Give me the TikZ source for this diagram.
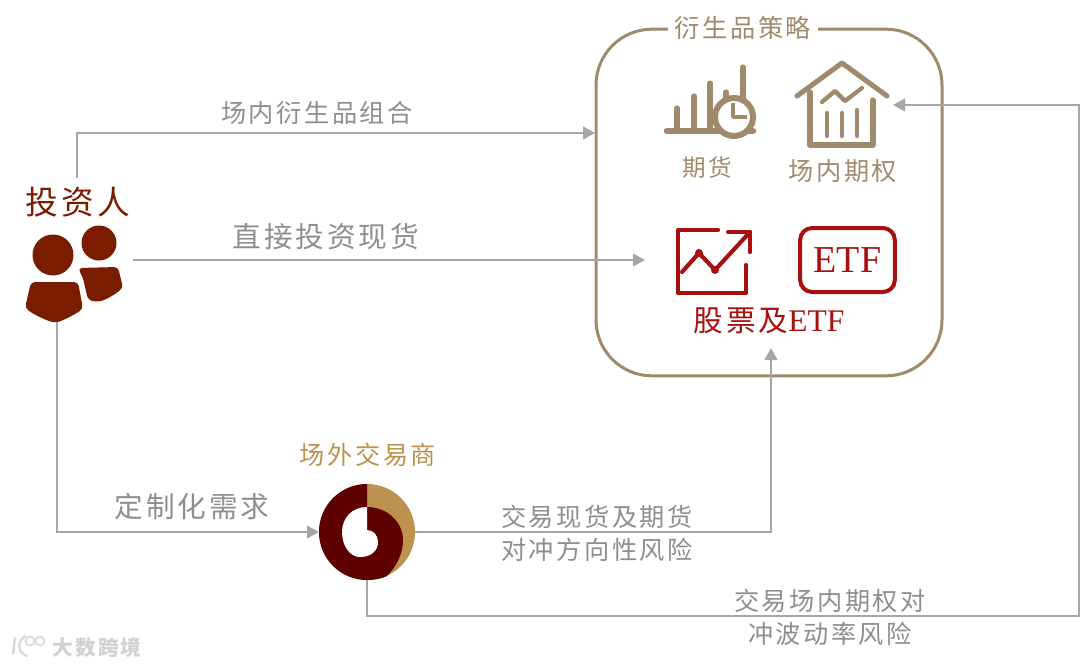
\documentclass[tikz,border=0pt]{standalone}
\usepackage{fontspec}
\setmainfont{Liberation Serif}
\newfontfamily\cjk[LetterSpace=10]{Noto Sans CJK SC}
\usetikzlibrary{arrows.meta}
\definecolor{lineGrey}{HTML}{A6A6A6}
\definecolor{textGrey}{HTML}{8E8E8E}
\definecolor{boxBrown}{HTML}{A08A6C}
\definecolor{redWine}{HTML}{A80F0F}
\definecolor{darkRust}{HTML}{7A1C00}
\definecolor{darkWine}{HTML}{5E0000}
\definecolor{tanGold}{HTML}{BC924E}
\tikzset{
	flow/.style={draw=lineGrey, line width=1.5pt, -{Triangle[length=9pt,width=9.5pt]}},
	lbl/.style={text=textGrey, inner sep=0pt, font=\cjk\fontsize{18.9}{20}\selectfont, align=center},
	biglbl/.style={lbl, font=\cjk\fontsize{21.5}{22}\selectfont},
	iconbrown/.style={draw=boxBrown, line width=3.8pt, line cap=round, line join=round},
	iconred/.style={draw=redWine, line width=3.1pt, line cap=round, line join=round}
}
\begin{document}
\begin{tikzpicture}[x=0.75pt,y=-0.75pt]
	\useasboundingbox (0,0) rectangle (1080,667);

	\node[draw=boxBrown, line width=2.25pt, rounded corners=42pt, minimum width=259.5pt, minimum height=260pt, outer sep=0pt] (strategy) at (769,202.5) {};
	\node[lbl, text=boxBrown, fill=white, inner xsep=5pt, inner ysep=2pt] (strategytitle) at (743,28) {衍生品策略};

	\draw[iconbrown, line width=5pt] (667,131) -- (753,131);
	\foreach \x/\y in {677/108, 694/96, 710/83, 726/92, 743/67}
		\draw[iconbrown] (\x,131) -- (\x,\y);
	\draw[boxBrown, fill=white, line width=4.5pt] (734,117) circle (19);
	\draw[iconbrown, line width=2.6pt, line cap=butt] (733,103) -- (733,117) -- (747,117);
	\node[lbl, text=boxBrown, font=\cjk\fontsize{17.7}{20}\selectfont] (futures) at (707,168) {期货};

	\draw[iconbrown] (797,96) -- (842,63) -- (887,96);
	\draw[iconbrown] (810,92) -- (810,145) -- (873,145) -- (873,100);
	\draw[iconbrown, line width=3.2pt] (822,102) -- (835,91) -- (845,101) -- (862,88);
	\foreach \x/\y in {827/113, 842/113, 857/110}
		\draw[iconbrown, line width=3.2pt] (\x,136) -- (\x,\y);
	\node[lbl, text=boxBrown] (options) at (843,171) {场内期权};

	\draw[iconred] (718,230) -- (678,230) -- (678,293) -- (746,293) -- (746,265);
	\draw[iconred] (682,272) -- (699,253) -- (715,270) -- (750,232);
	\draw[iconred] (728,232) -- (750,232) -- (750,252);
	\fill[redWine] (699,253) circle (4);
	\fill[redWine] (715,270) circle (4);
	\node[draw=redWine, line width=3pt, rounded corners=9pt, minimum width=71pt, minimum height=48pt, text=redWine, font=\fontsize{28.5}{30}\selectfont] (etf) at (847.5,260) {ETF};
	\node[lbl, text=redWine, font=\fontsize{23.6}{25}\selectfont] (stocks) at (769,321) {{\cjk\fontsize{22.2}{25}\selectfont 股票及}ETF};

	\node[lbl, text=darkRust, font=\cjk\fontsize{24.5}{26}\selectfont] (investor) at (78,202) {投资人};
	\fill[darkRust] (53,255) circle (20.5);
	\fill[darkRust, rounded corners=3pt] (31,282) -- (78,282) -- (83,309) .. controls (72,316) and (64,320) .. (55,323) .. controls (46,320) and (36,316) .. (25,308) -- cycle;
	\fill[darkRust] (99,243) circle (17.5);
	\fill[darkRust, rounded corners=3pt] (78,268) -- (118,267) -- (123,288) .. controls (114,295) and (106,300) .. (96,302) -- (88,300) -- (83,278) -- cycle;
	\coordinate (investortop) at (77,178);
	\coordinate (investorright) at (133,260);
	\coordinate (investorbottom) at (57,322);

	\node[circle, fill=tanGold, minimum size=72pt, inner sep=0pt, outer sep=0pt] (dealer) at (367,532) {};
	\fill[darkWine] (367,484) arc[start angle=-90, end angle=-270, radius=48] .. controls (374,580) and (381,579) .. (387,576) .. controls (397,566) and (403,553) .. (403,540) .. controls (403,522) and (387,507) .. (367,507) -- cycle;
	\fill[white] (367,507) .. controls (352,507) and (342,518) .. (342,532) .. controls (342,546) and (350,557) .. (360,557) .. controls (371,557) and (378,551) .. (378,542) .. controls (378,535) and (373,530) .. (367,530) -- cycle;
	\node[lbl, text=tanGold] (dealertitle) at (368,455) {场外交易商};

	\coordinate (stocksin) at (771,348);
	\coordinate (optionsin) at (893,105);
	\coordinate (stratin) at (595,133);
	\coordinate (stocksleft) at (645,260);

	\draw[flow] (investortop) -- (investortop |- stratin) -- (stratin);
	\draw[flow] (investorright) -- (stocksleft);
	\draw[flow] (investorbottom) -- (investorbottom |- dealer.west) -- (dealer.west);
	\draw[flow] (dealer.east) -- (stocksin |- dealer.east) -- (stocksin);
	\draw[flow] (dealer.south) -- (367,616) -- (1079,616) -- (1079,105) -- (optionsin);

	\node[lbl] (labelderiv) at (317,113) {场内衍生品组合};
	\node[biglbl] (labelspot) at (326,237) {直接投资现货};
	\node[biglbl] (labelcustom) at (192,507) {定制化需求};
	\node[lbl, font=\cjk\fontsize{18.9}{24.75}\selectfont] (labelhedge) at (597,533) {交易现货及期货\\对冲方向性风险};
	\node[lbl, font=\cjk\fontsize{18.9}{24.75}\selectfont] (labelvol) at (830,617) {交易场内期权对\\冲波动率风险};

	\draw[black!15, line width=1.8pt, line cap=round] (15,638) -- (13,654);
	\draw[black!15, line width=1.8pt, line cap=round] (25,636) .. controls (17,642) and (17,652) .. (27,656);
	\draw[black!15, line width=1.3pt] (30,641) circle (4.5);
	\draw[black!15, line width=1.3pt] (40,641) circle (4.5);
	\node[lbl, text=black!18, font=\cjk\bfseries\fontsize{15.5}{16}\selectfont] (mark) at (97,648) {大数跨境};
\end{tikzpicture}
\end{document}
